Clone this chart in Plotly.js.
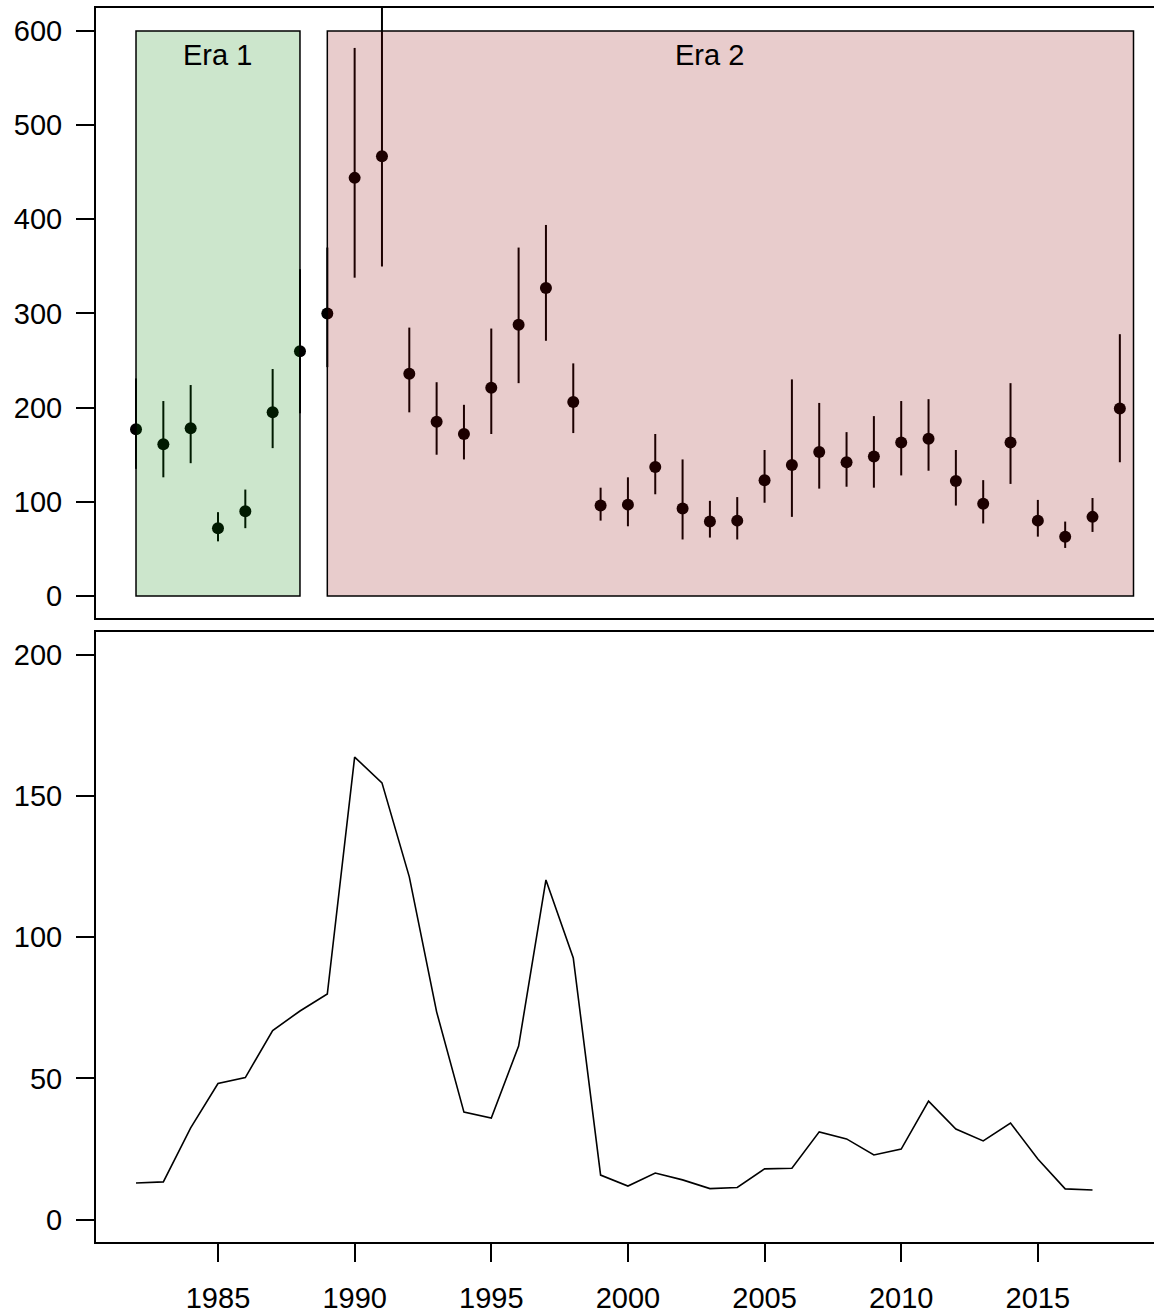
<!DOCTYPE html>
<html>
<head>
<meta charset="utf-8">
<script src="https://cdn.plot.ly/plotly-3.0.1.min.js"></script>
<style>html,body{margin:0;padding:0;background:#fff;}#chart{width:1154px;height:1316px;}</style>
</head>
<body>
<div id="chart"></div>
<script>
const years = [1982,1983,1984,1985,1986,1987,1988,1989,1990,1991,1992,1993,1994,1995,1996,1997,1998,1999,2000,2001,2002,2003,2004,2005,2006,2007,2008,2009,2010,2011,2012,2013,2014,2015,2016,2017,2018];
const estimate = [177,161,178,72,90,195,260,300,444,467,236,185,172,221,288,327,206,96,97,137,93,79,80,123,139,153,142,148,163,167,122,98,163,80,63,84,199];
const lower = [135,126,141,58,72,157,194,243,338,350,195,150,145,172,226,271,173,80,74,108,60,62,60,99,84,114,116,115,128,133,96,77,119,63,51,68,142];
const upper = [231,207,224,89,113,241,347,370,582,650,285,227,203,284,370,394,247,115,126,172,145,101,105,155,230,205,174,191,207,209,155,123,226,102,79,104,278];
const lineYears = [1982,1983,1984,1985,1986,1987,1988,1989,1990,1991,1992,1993,1994,1995,1996,1997,1998,1999,2000,2001,2002,2003,2004,2005,2006,2007,2008,2009,2010,2011,2012,2013,2014,2015,2016,2017];
const lineValues = [13.0,13.4,32.5,48.2,50.3,67.0,73.9,79.9,163.8,154.7,121.4,73.6,38.1,36.0,61.5,120.3,92.7,15.8,11.9,16.5,14.1,11.0,11.4,18.0,18.2,31.1,28.6,22.9,25.0,42.0,32.1,27.9,34.2,21.5,10.9,10.5];
const eras = [{name:'Era 1', start:1982, end:1988, labelX:1985, fill:'rgba(0,128,0,0.2)'},
              {name:'Era 2', start:1989, end:2018.5, labelX:2003, fill:'rgba(139,0,0,0.2)'}];
const topTicks = [0,100,200,300,400,500,600];
const bottomTicks = [0,50,100,150,200];
const xTicks = [1985,1990,1995,2000,2005,2010,2015];

const H = 1316;
const font = {family:'Liberation Sans, Arial, sans-serif', size:29, color:'#000'};

const traces = [
  {x: years, y: estimate, type:'scatter', mode:'markers', xaxis:'x', yaxis:'y',
   marker:{color:'#000', size:12},
   error_y:{type:'data', symmetric:false,
     array: upper.map((u,i)=>u-estimate[i]),
     arrayminus: lower.map((l,i)=>estimate[i]-l),
     color:'#000', thickness:2, width:0},
   hoverinfo:'skip', cliponaxis:true},
  {x: lineYears, y: lineValues, type:'scatter', mode:'lines', xaxis:'x2', yaxis:'y2',
   line:{color:'#000', width:1.6}, hoverinfo:'skip'}
];

const xRange = [1980.536, 2019.25];
const common = {showgrid:false, zeroline:false, showline:true, linecolor:'#000', linewidth:2,
  ticks:'outside', ticklen:18, tickwidth:2, tickcolor:'#000', tickfont:font, automargin:false};

const shapes = eras.map(e=>({type:'rect', xref:'x', yref:'y', x0:e.start, x1:e.end, y0:0, y1:600,
  fillcolor:e.fill, line:{color:'#000', width:1.5}, layer:'above'}));
const annotations = eras.map(e=>({xref:'x', yref:'y', x:e.labelX, y:575, text:e.name, showarrow:false,
  font:{family:font.family, size:29, color:'#000'}, xanchor:'center', yanchor:'middle'}));

const layout = {
  width:1154, height:H, margin:{l:96, r:0, t:0, b:0}, paper_bgcolor:'#fff', plot_bgcolor:'#fff',
  showlegend:false,
  xaxis: Object.assign({}, common, {range:xRange, domain:[0,1], anchor:'y', mirror:true, ticks:'', showticklabels:false}),
  yaxis: Object.assign({}, common, {range:[-23.4,624.4], domain:[1-618/H, 1-8/H], anchor:'x', tickvals:topTicks, ticktext:topTicks.map(String), ticklabelstandoff:8}),
  xaxis2: Object.assign({}, common, {range:xRange, domain:[0,1], anchor:'y2', mirror:true, tickvals:xTicks, ticktext:xTicks.map(String), ticklabelstandoff:11}),
  yaxis2: Object.assign({}, common, {range:[-7.9,208.1], domain:[1-1242/H, 1-632/H], anchor:'x2', tickvals:bottomTicks, ticktext:bottomTicks.map(String), ticklabelstandoff:8}),
  shapes: shapes,
  annotations: annotations
};

Plotly.newPlot('chart', traces, layout, {staticPlot:true, displayModeBar:false});
</script>
</body>
</html>
